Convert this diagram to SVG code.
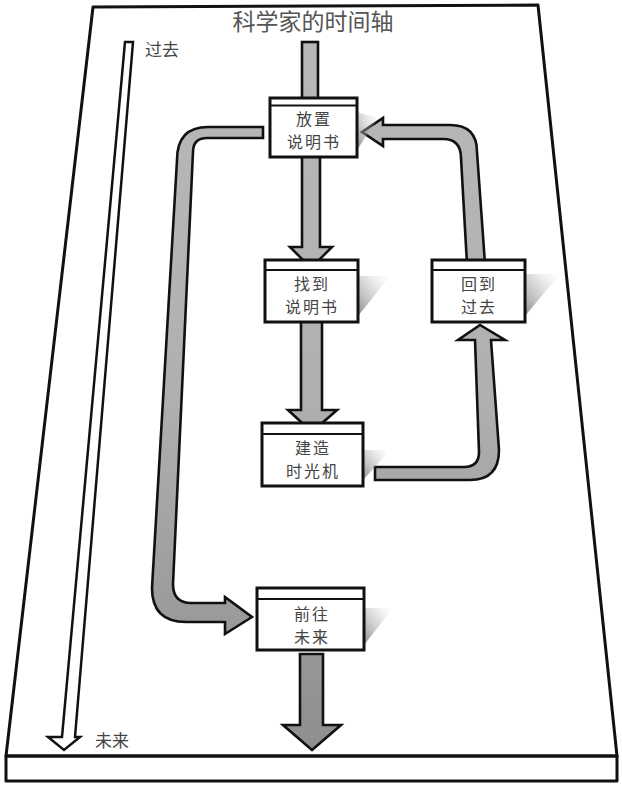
<svg xmlns="http://www.w3.org/2000/svg" width="622" height="785" viewBox="0 0 622 785">
  <defs>
    <linearGradient id="boardGrad" x1="0" y1="0" x2="0" y2="1">
      <stop offset="0" stop-color="#c3c3c3"/>
      <stop offset="0.22" stop-color="#d0d0d0"/>
      <stop offset="0.4" stop-color="#e8e8e8"/>
      <stop offset="0.54" stop-color="#fbfbfb"/>
      <stop offset="1" stop-color="#ffffff"/>
    </linearGradient>
    <linearGradient id="arrowGrad" gradientUnits="userSpaceOnUse" x1="0" y1="40" x2="0" y2="750">
      <stop offset="0" stop-color="#b8b8b8"/>
      <stop offset="0.5" stop-color="#b0b0b0"/>
      <stop offset="1" stop-color="#8e8e8e"/>
    </linearGradient>
    <linearGradient id="shadowGrad" x1="0" y1="1" x2="1" y2="0">
      <stop offset="0" stop-color="#777" stop-opacity="0.85"/>
      <stop offset="0.6" stop-color="#aaa" stop-opacity="0.35"/>
      <stop offset="1" stop-color="#ddd" stop-opacity="0"/>
    </linearGradient>
    <style>
      .edge { fill: none; stroke: #111; stroke-width: 3; stroke-linejoin: round; }
      .arrow { fill: url(#arrowGrad); stroke: #111; stroke-width: 2.6; stroke-linejoin: miter; }
      .box { fill: #fff; stroke: #111; stroke-width: 3; }
      .hdr { stroke: #111; stroke-width: 2; }
      .shadow { fill: url(#shadowGrad); stroke: none; }
      .lbl { font-family: "Noto Sans CJK SC", "Noto Sans", sans-serif; font-size: 16px; letter-spacing: 2px; fill: #444; text-anchor: middle; }
      .side { font-family: "Noto Sans CJK SC", "Noto Sans", sans-serif; font-size: 17px; fill: #444; }
      .title { font-family: "Noto Sans CJK SC", "Noto Sans", sans-serif; font-size: 23px; fill: #555; text-anchor: middle; }
    </style>
  </defs>

  <!-- board -->
  <g id="board">
    <polygon points="93,7 538,5 617,756 6,756" fill="url(#boardGrad)" class="edge"/>
    <polygon points="6,756 617,756 617,781 6,781" fill="#fff" class="edge"/>
    <text class="title" x="313" y="30">科学家的时间轴</text>
  </g>

  <!-- time axis -->
  <g id="timeline">
    <polygon points="125,42 133,42 75,737 80,737 64,750 48,737 62,737" fill="#fff" stroke="#111" stroke-width="2.5" stroke-linejoin="miter"/>
    <text class="side" x="145" y="56">过去</text>
    <text class="side" x="95" y="747">未来</text>
  </g>

  <!-- connectors -->
  <g id="connectors">
    <rect class="arrow" x="302" y="42" width="16" height="60"/>
    <polygon class="arrow" points="302,155 320,155 320,247 332,247 311,268 290,247 302,247"/>
    <polygon class="arrow" points="301,320 322,320 322,410 337,410 312,432 288,410 301,410"/>
    <polygon class="arrow" points="300,654 323,654 323,725 341,725 312,750 283,725 300,725"/>
    <path class="arrow" d="M263,127 L208,127 Q177,127 177,160 L152,588 Q152,622 186,622 L225,622 L225,634 L252,617 L225,597 L225,603 L191,603 Q173,603 173,584 L193,152 Q193,138 207,138 L263,138 Z"/>
    <path class="arrow" d="M375,467 L464,467 Q479,467 479,452 L475,340 L458,340 L480,325 L505,340 L491,340 L499,450 Q499,480 470,480 L375,480 Z"/>
    <path class="arrow" d="M467,264 L461,158 Q461,139 443,139 L383,139 L383,146 L362,132 L383,118 L383,125 L450,125 Q477,125 477,152 L485,264 Z"/>
  </g>

  <!-- nodes -->
  <g id="node-place">
    <polygon class="shadow" points="357,112 378,118 357,150"/>
    <rect class="box" x="270" y="98" width="87" height="59"/>
    <line class="hdr" x1="270" y1="105.5" x2="357" y2="105.5"/>
    <text class="lbl" x="314" y="125">放置</text>
    <text class="lbl" x="314" y="148">说明书</text>
  </g>

  <g id="node-find">
    <polygon class="shadow" points="358,276 390,276 358,316"/>
    <rect class="box" x="265" y="260" width="93" height="62"/>
    <line class="hdr" x1="265" y1="270" x2="358" y2="270"/>
    <text class="lbl" x="312" y="290">找到</text>
    <text class="lbl" x="312" y="313">说明书</text>
  </g>

  <g id="node-back">
    <polygon class="shadow" points="525,274 560,274 525,316"/>
    <rect class="box" x="432" y="260" width="93" height="62"/>
    <line class="hdr" x1="432" y1="270" x2="525" y2="270"/>
    <text class="lbl" x="479" y="290">回到</text>
    <text class="lbl" x="479" y="313">过去</text>
  </g>

  <g id="node-build">
    <polygon class="shadow" points="363,450 390,450 363,480"/>
    <rect class="box" x="262" y="423" width="101" height="63"/>
    <line class="hdr" x1="262" y1="434" x2="363" y2="434"/>
    <text class="lbl" x="313" y="454">建造</text>
    <text class="lbl" x="313" y="477">时光机</text>
  </g>

  <g id="node-future">
    <polygon class="shadow" points="364,608 393,608 364,645"/>
    <rect class="box" x="257" y="588" width="107" height="62"/>
    <line class="hdr" x1="257" y1="599" x2="364" y2="599"/>
    <text class="lbl" x="312" y="620">前往</text>
    <text class="lbl" x="312" y="643">未来</text>
  </g>
</svg>
